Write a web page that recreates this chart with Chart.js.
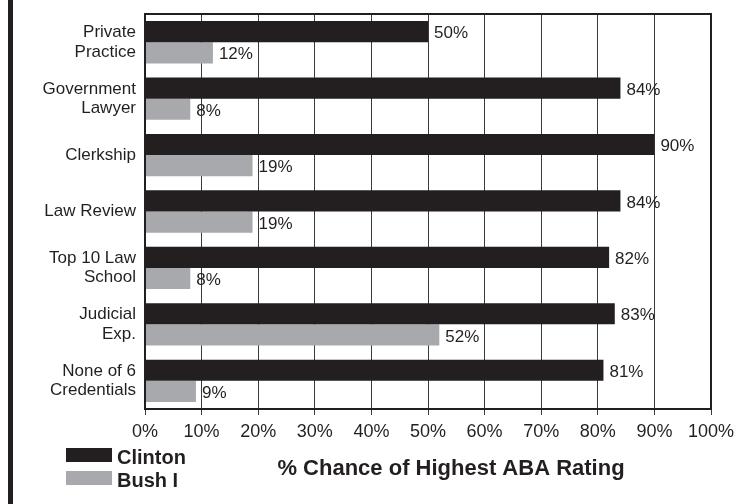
<!DOCTYPE html>
<html>
<head>
<meta charset="utf-8">
<script src="https://cdn.jsdelivr.net/npm/chart.js@4/dist/chart.umd.min.js"></script>
<style>
  html, body { margin: 0; padding: 0; background: #fff; }
  #wrap { position: relative; width: 745px; height: 504px; }
  #stripe { position: absolute; left: 8px; top: 0; width: 5px; height: 504px; background: #231f20; }
</style>
</head>
<body>
<div id="wrap">
  <canvas id="c"></canvas>
  <div id="stripe"></div>
</div>
<script>
const categories = [
  ["Private", "Practice"],
  ["Government", "Lawyer"],
  ["Clerkship"],
  ["Law Review"],
  ["Top 10 Law", "School"],
  ["Judicial", "Exp."],
  ["None of 6", "Credentials"]
];
const clintonValues = [50, 84, 90, 84, 82, 83, 81];
const bushValues = [12, 8, 19, 19, 8, 52, 9];
const seriesNames = ["Clinton", "Bush I"];
const axisTitle = "% Chance of Highest ABA Rating";
const tickMin = 0, tickMax = 100, tickStep = 10;

const INK = "#231f20";
const GRAY = "#a7a9ac";

const framePlugin = {
  id: "frame",
  afterDatasetsDraw(chart) {
    const { ctx, chartArea: a } = chart;
    ctx.save();
    // value labels
    ctx.font = "17px 'Liberation Sans', Arial, sans-serif";
    ctx.fillStyle = INK;
    ctx.textAlign = "left";
    ctx.textBaseline = "middle";
    chart.data.datasets.forEach((ds, di) => {
      const meta = chart.getDatasetMeta(di);
      meta.data.forEach((bar, i) => {
        ctx.fillText(ds.data[i] + "%", bar.x + 6, bar.y + 2);
      });
    });
    // frame
    ctx.strokeStyle = INK;
    ctx.lineWidth = 2;
    ctx.strokeRect(a.left, a.top, a.right - a.left, a.bottom - a.top);
    ctx.restore();
  },
  afterDraw(chart) {
    const { ctx } = chart;
    ctx.save();
    // legend
    ctx.font = "bold 20px 'Liberation Sans', Arial, sans-serif";
    ctx.textAlign = "left";
    ctx.textBaseline = "alphabetic";
    chart.data.datasets.forEach((ds, di) => {
      const y = 448 + di * 23;
      ctx.fillStyle = ds.backgroundColor;
      ctx.fillRect(66, y, 46, 14);
      ctx.fillStyle = INK;
      ctx.fillText(ds.label, 117, y + 16);
    });
    // axis title
    ctx.font = "bold 22px 'Liberation Sans', Arial, sans-serif";
    ctx.textAlign = "center";
    ctx.fillStyle = INK;
    ctx.fillText(axisTitle, 451, 475);
    ctx.restore();
  }
};

new Chart(document.getElementById("c"), {
  type: "bar",
  data: {
    labels: categories,
    datasets: [
      { label: seriesNames[0], data: clintonValues, backgroundColor: INK },
      { label: seriesNames[1], data: bushValues, backgroundColor: GRAY }
    ]
  },
  options: {
    indexAxis: "y",
    responsive: true,
    maintainAspectRatio: false,
    animation: false,
    devicePixelRatio: 1,
    layout: { padding: { top: 14, right: 34, bottom: 0, left: 0 } },
    datasets: { bar: { categoryPercentage: 0.75, barPercentage: 1.0, borderWidth: 0 } },
    plugins: { legend: { display: false }, tooltip: { enabled: false } },
    scales: {
      x: {
        type: "linear",
        min: tickMin, max: tickMax,
        ticks: {
          stepSize: tickStep,
          callback: v => v + "%",
          color: INK,
          font: { family: "'Liberation Sans', Arial, sans-serif", size: 18 },
          padding: 6,
          maxRotation: 0
        },
        grid: { color: "#3a3a3a", lineWidth: 1, tickLength: 6, drawOnChartArea: true },
        border: { display: true, color: INK, width: 2 },
        afterFit(s) { s.height = 95; }
      },
      y: {
        ticks: {
          color: INK,
          font: { family: "'Liberation Sans', Arial, sans-serif", size: 17, lineHeight: 1.15 },
          padding: 9
        },
        grid: { display: false, drawTicks: false },
        border: { display: true, color: INK, width: 2 },
        afterFit(s) { s.width = 145; s.paddingTop = 0; s.paddingBottom = 0; }
      }
    }
  },
  plugins: [framePlugin]
});
</script>
</body>
</html>
